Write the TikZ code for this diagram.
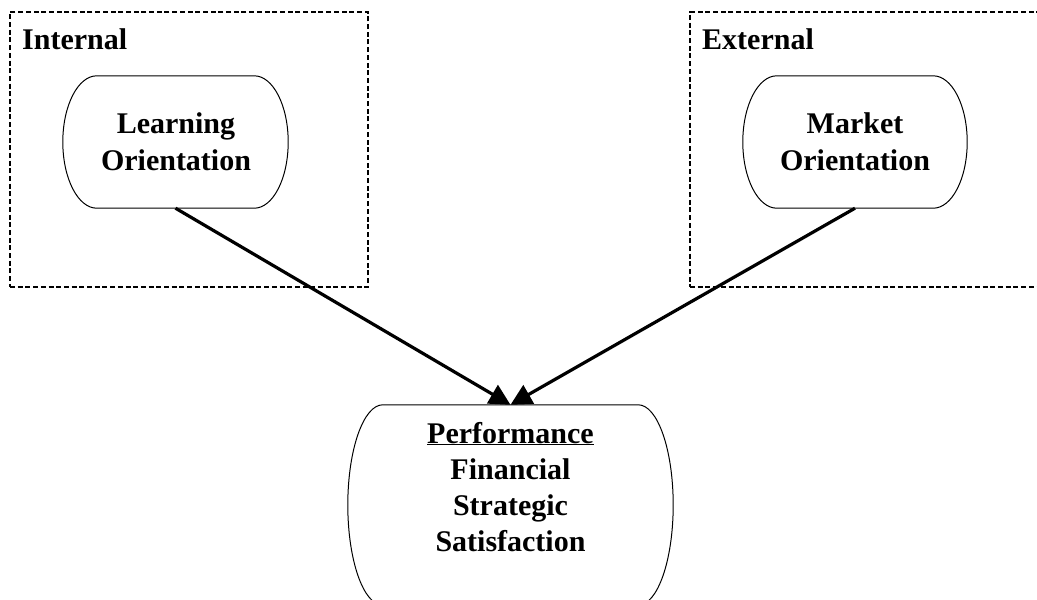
\documentclass[tikz,border=0pt]{standalone}
\usepackage{fontspec}
\setmainfont{Liberation Serif}
\usetikzlibrary{arrows.meta,calc}
\tikzset{
  zone/.style={draw=black, line width=2.3pt, dash pattern=on 5pt off 2.7pt, inner sep=0pt, minimum width=#1},
  holder/.style={draw=none, inner sep=0pt},
  lbl/.style={anchor=base, inner sep=0pt, font=\fontsize{30}{36}\selectfont\bfseries},
  ttl/.style={anchor=base west, inner sep=0pt, font=\fontsize{30}{36}\selectfont\bfseries},
  arr/.style={line width=3.2pt, -{Triangle[length=21pt,width=21pt]}},
  outline/.style={draw=black, line width=1pt}
}
\newcommand{\pillpath}[2]{%
  \draw[outline] let \p1=(#1.north west), \p2=(#1.south east), \n1={(\y1-\y2)/2} in
    ($(\x1,\y1)+(#2pt,0)$) -- ($(\x2,\y1)-(#2pt,0)$)
    arc[start angle=90, end angle=-90, x radius=#2pt, y radius=\n1]
    -- ($(\x1,\y2)+(#2pt,0)$)
    arc[start angle=270, end angle=90, x radius=#2pt, y radius=\n1]
    -- cycle;}
\begin{document}
\begin{tikzpicture}[x=1pt,y=1pt]
\useasboundingbox (0,0) rectangle (1037,-600);
% zones
\node[zone=358pt, minimum height=275pt] (internal) at (189,-149.5) {};
\node[zone=350pt, minimum height=275pt] (external) at (865,-149.5) {};
\node[ttl] (tint) at (22,-49) {Internal};
\node[ttl] (text) at (702,-49) {External};
% shapes
\node[holder, minimum width=225pt, minimum height=132pt] (learn) at (175.5,-142) {};
\node[holder, minimum width=224pt, minimum height=132pt] (market) at (855,-142) {};
\node[holder, minimum width=325pt, minimum height=200pt] (perf) at (510.5,-505) {};
\pillpath{learn}{34}
\pillpath{market}{34}
\pillpath{perf}{35}
% texts
\node[lbl] (l1) at (176,-133) {Learning};
\node[lbl] (l2) at (176,-170) {Orientation};
\node[lbl] (m1) at (855,-133) {Market};
\node[lbl] (m2) at (855,-170) {Orientation};
\node[lbl] (p1) at (510.5,-443) {\underline{Performance}};
\node[lbl] (p2) at (510.5,-479.3) {Financial};
\node[lbl] (p3) at (510.5,-515.6) {Strategic};
\node[lbl] (p4) at (510.5,-551.9) {Satisfaction};
% connectors
\draw[arr] (learn.south) -- (perf.north);
\draw[arr] (market.south) -- (perf.north);
\end{tikzpicture}
\end{document}
